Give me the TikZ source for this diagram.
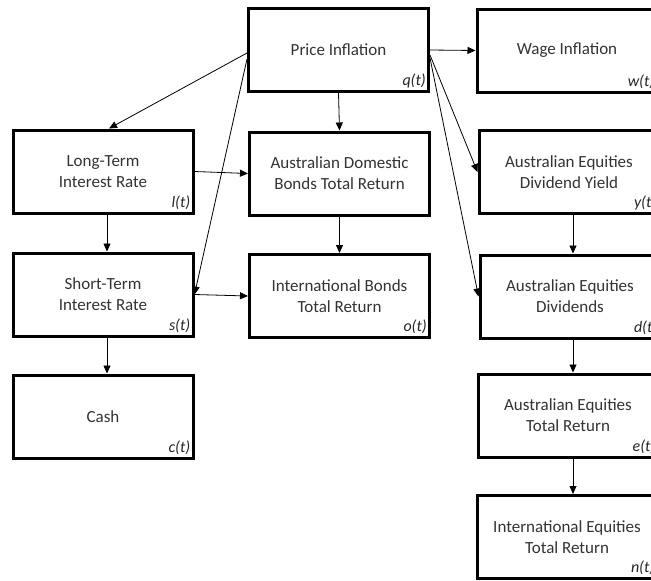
\documentclass[tikz,border=0pt]{standalone}
\usepackage{fontspec}
\setmainfont{Carlito}
\usetikzlibrary{arrows.meta,positioning}
\tikzset{
  box/.style  = {draw, line width=3pt, fill=white, minimum width=180pt, minimum height=83pt,
                 align=center, font=\fontsize{17}{21}\selectfont, text=black!80},
  fn/.style   = {anchor=south east, inner xsep=4pt, inner ysep=5pt,
                 font=\fontsize{16}{18}\selectfont\itshape, text=black!85},
  link/.style = {-{Triangle[length=8pt,width=7pt]}, line width=0.8pt},
}

\begin{document}
\begin{tikzpicture}[x=1pt,y=-1pt]
  \clip (0,0) rectangle (651,581);
  \fill[white] (0,0) rectangle (651,581);
  % left column
  \node[box] (l) at (103,171.5) {Long-Term\\Interest Rate};
  \node[box] (s) at (103,294.5) {Short-Term\\Interest Rate};
  \node[box] (c) at (103,416.5) {Cash};
  % middle column
  \node[box] (q) at (338.5,50) {Price Inflation};
  \node[box] (b) at (339.5,173.5) {Australian Domestic\\Bonds Total Return};
  \node[box] (o) at (339.5,296) {International Bonds\\Total Return};
  % right column
  \node[box] (w) at (567,50.5) {Wage Inflation};
  \node[box] (y) at (569,172) {Australian Equities\\Dividend Yield};
  \node[box] (d) at (570,296.5) {Australian Equities\\Dividends};
  \node[box] (e) at (568,415.5) {Australian Equities\\Total Return};
  \node[box] (n) at (567,537) {International Equities\\Total Return};
  % function names
  \node[fn] (ql) at (q.south east) {q(t)};
  \node[fn] (wl) at (w.south east) {w(t)};
  \node[fn] (ll) at (l.south east) {l(t)};
  \node[fn] (sl) at (s.south east) {s(t)};
  \node[fn] (cl) at (c.south east) {c(t)};
  \node[fn] (bl) at (o.south east) {o(t)};
  \node[fn] (yl) at (y.south east) {y(t)};
  \node[fn] (dl) at (d.south east) {d(t)};
  \node[fn] (el) at (e.south east) {e(t)};
  \node[fn] (nl) at (n.south east) {n(t)};
  % links
  \draw[link] (q.east) -- (w.west);
  \draw[link] ([yshift=-3pt]q.west) -- ([xshift=6pt]l.north);
  \draw[link] ([yshift=-9pt]q.west) -- (s.east);
  \draw[link] (q.south) -- (b.north);
  \draw[link] ([yshift=-5pt]q.east) -- (y.west);
  \draw[link] ([yshift=-8pt]q.east) -- (d.west);
  \draw[link] (l.east) -- (b.west);
  \draw[link] ([xshift=4pt]l.south) -- ([xshift=4pt]s.north);
  \draw[link] (s.east) -- (o.west);
  \draw[link] ([xshift=4pt]s.south) -- ([xshift=4pt]c.north);
  \draw[link] (b.south) -- (o.north);
  \draw[link] ([xshift=4pt]y.south) -- ([xshift=3pt]d.north);
  \draw[link] ([xshift=3pt]d.south) -- ([xshift=5pt]e.north);
  \draw[link] ([xshift=5pt]e.south) -- ([xshift=6pt]n.north);
\end{tikzpicture}
\end{document}
